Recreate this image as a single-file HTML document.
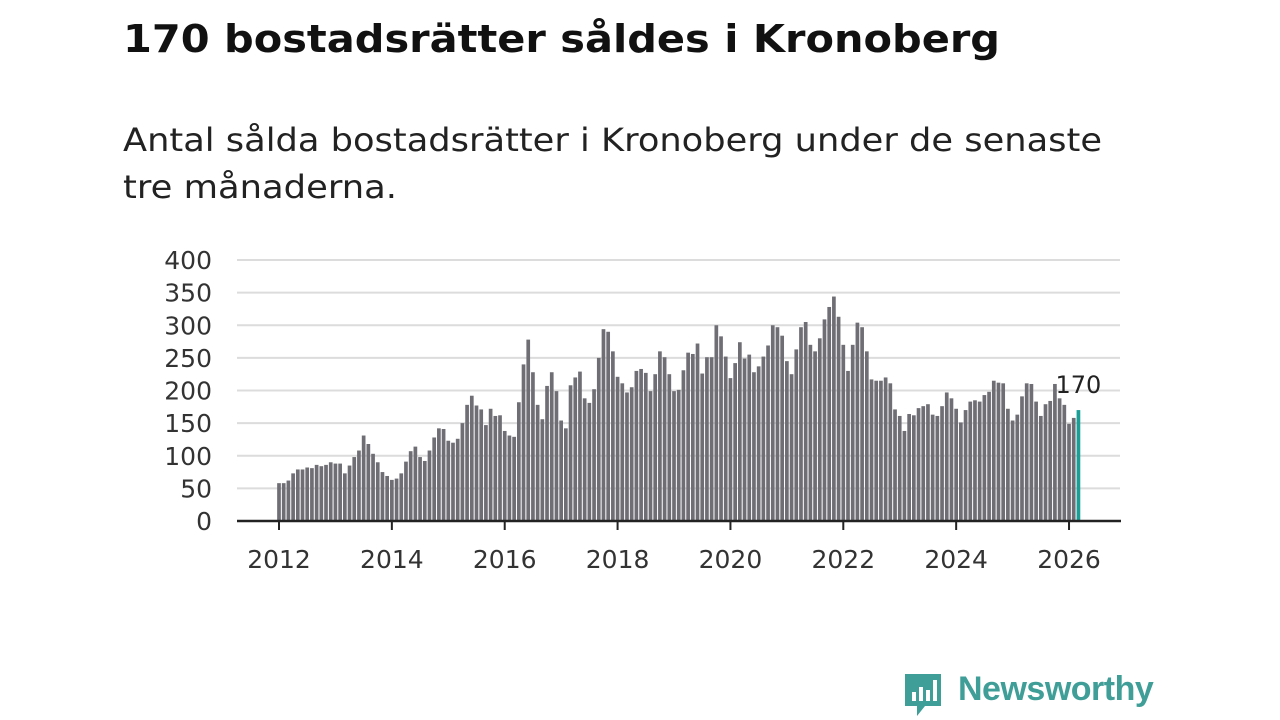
<!DOCTYPE html>
<html><head><meta charset="utf-8"><style>
body{margin:0;background:#fff;width:1280px;height:720px;overflow:hidden;font-family:"DejaVu Sans",sans-serif;}
</style></head><body>
<svg id="chart" width="1280" height="720" style="position:absolute;left:0;top:0">
<text x="123" y="52" font-size="38" font-weight="bold" fill="#111" font-family="DejaVu Sans, sans-serif" textLength="877" lengthAdjust="spacingAndGlyphs">170 bostadsrätter såldes i Kronoberg</text>
<text x="123" y="151" font-size="32" fill="#222" font-family="DejaVu Sans, sans-serif" textLength="979" lengthAdjust="spacingAndGlyphs">Antal sålda bostadsrätter i Kronoberg under de senaste</text>
<text x="123" y="198" font-size="32" fill="#222" font-family="DejaVu Sans, sans-serif" textLength="274" lengthAdjust="spacingAndGlyphs">tre månaderna.</text>
</svg>
<div style="position:absolute;left:903px;top:670px;height:46px;">
<svg width="40" height="48" style="position:absolute;left:0;top:2px">
<path d="M2 2h36v32H22l-8 10v-10H2z" fill="#3f9e97"/>
<rect x="9" y="20" width="4" height="9" fill="#fff"/><rect x="16" y="15" width="4" height="14" fill="#fff"/><rect x="23" y="18" width="4" height="11" fill="#fff"/><rect x="30" y="8" width="4" height="21" fill="#fff"/>
</svg>
<span style="position:absolute;left:55px;top:0;font-size:34px;font-weight:bold;color:#3f9e97;white-space:nowrap;font-family:'Liberation Sans',sans-serif;letter-spacing:-0.5px">Newsworthy</span>
</div>
<script>
const years=[2012,2014,2016,2018,2020,2022,2024,2026];
const yTicks=[0,50,100,150,200,250,300,350,400];
const startYear=2012;
const values=[58,58,62,73,79,79,82,81,86,84,86,90,88,88,73,85,98,108,131,118,103,90,75,69,63,65,73,91,107,114,98,92,108,128,142,141,123,120,126,150,178,192,177,171,147,172,161,162,138,131,129,182,240,278,228,178,156,207,
228,199,154,142,208,220,229,188,181,202,250,294,290,260,221,211,197,205,230,233,227,199,225,260,251,225,199,201,231,258,256,272,226,251,251,300,283,252,219,242,274,249,255,228,237,252,269,300,297,284,245,225,263,297,305,
270,260,280,309,328,344,313,270,230,270,304,297,260,217,215,215,220,211,171,161,138,164,162,173,176,179,163,161,176,197,188,172,151,170,183,185,183,193,198,215,212,211,172,154,163,191,211,210,183,161,179,184,210,188,178,149,158,170];
const lastLabel="170";
const svg=document.getElementById('chart');
const NS='http://www.w3.org/2000/svg';
const x0=279,pxYear=56.43,yBase=521,pxUnit=261/400;
const xs=t=>x0+(t-startYear)*pxYear;
const ys=v=>yBase-v*pxUnit;
const FF='DejaVu Sans, sans-serif';
function mk(tag,attrs){const e=document.createElementNS(NS,tag);for(const k in attrs)e.setAttribute(k,attrs[k]);svg.appendChild(e);return e;}
yTicks.forEach(v=>{
 if(v>0){const g=mk('line',{x1:237,x2:1120,y1:ys(v),y2:ys(v),stroke:'#dcdcdc','stroke-width':2});
 
 }
 const t=mk('text',{x:212,y:ys(v)+9,'text-anchor':'end','font-size':25,fill:'#333','font-family':FF});
 t.textContent=v;
 
 
});
const bw=3.7;
values.forEach((v,i)=>{
 const cx=xs(startYear+i/12);
 const last=i===values.length-1;
 const r=mk('rect',{x:cx-bw/2,y:ys(v),width:bw,height:v*pxUnit,fill:last?'#1a9e96':'#6f6e74'});
 
 
 if(last){const t=mk('text',{x:cx,y:ys(v)-17,'text-anchor':'middle','font-size':24,fill:'#222','font-family':FF});
 t.textContent=lastLabel;
 
 }
});
const ax=mk('line',{x1:237,x2:1121,y1:yBase,y2:yBase,stroke:'#222','stroke-width':2.5});


years.forEach(y=>{
 const tk=mk('line',{x1:xs(y),x2:xs(y),y1:yBase,y2:yBase+9,stroke:'#222','stroke-width':2});
 
 
 const t=mk('text',{x:xs(y),y:568,'text-anchor':'middle','font-size':25,fill:'#333','font-family':FF});
 t.textContent=y;
 
 
});
</script>
</body></html>
